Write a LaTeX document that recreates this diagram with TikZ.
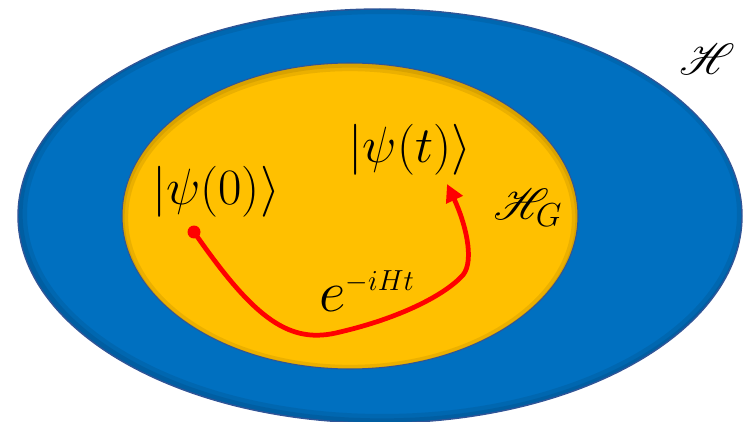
\RequirePackage{fix-cm}
\documentclass[tikz,border=0pt]{standalone}
\usepackage{amsmath,amssymb}
\usepackage{mathrsfs}
\usepackage{tikz}
\usetikzlibrary{positioning, calc, arrows.meta}
\definecolor{hBlue}{RGB}{0, 112, 192}
\definecolor{hGold}{RGB}{255, 192, 0}
\definecolor{rimBlue}{RGB}{47, 85, 151}
\definecolor{evRed}{RGB}{255, 0, 0}

\begin{document}
\begin{tikzpicture}[
    x=0.02cm, y=-0.02cm,
    hspace/.style={fill=hBlue},
    subspace/.style={fill=hGold},
    rim/.style={draw=black, opacity=0.08},
    ket/.style={inner sep=0pt, font=\fontsize{29}{33}\selectfont},
    lbl/.style={inner sep=0pt, font=\fontsize{29}{33}\selectfont},
    dot/.style={circle, fill=evRed, inner sep=0pt, minimum size=0.26cm},
    arrow/.style={-{Triangle[length=10pt, width=10pt]}, draw=evRed, line width=2.7pt},
  ]
    \useasboundingbox (0,0) rectangle (743,422);

    % Outer space H
    \fill[hspace] (380,216) ellipse [x radius=362, y radius=207];
    \begin{scope}
      \clip (380,216) ellipse [x radius=362, y radius=207];
      \draw[rim, line width=8pt] (382,214) ellipse [x radius=362, y radius=207];
      \draw[rim, line width=3pt] (382,214) ellipse [x radius=362, y radius=207];
    \end{scope}
    \draw[draw=rimBlue, line width=0.8pt] (380,216) ellipse [x radius=362, y radius=207];

    % Subspace H_G
    \fill[subspace] (350,216) ellipse [x radius=228, y radius=153];
    \begin{scope}
      \clip (350,216) ellipse [x radius=228, y radius=153];
      \draw[rim, line width=7pt] (350,218) ellipse [x radius=228, y radius=153];
      \draw[rim, line width=3pt] (350,218) ellipse [x radius=228, y radius=153];
    \end{scope}
    \draw[draw=rimBlue, line width=0.6pt] (350,216) ellipse [x radius=228, y radius=153];

    % Labels
    \node[lbl] (Hfull) at (707,59) {$\mathscr{H}$};
    \node[lbl, font=\fontsize{27}{31}\selectfont] (Hsub) at (528,208) {$\mathscr{H}_G$};
    \node[ket] (psi0) at (216,192) {$|\psi(0)\rangle$};
    \node[ket] (psit) at (410,150) {$|\psi(t)\rangle$};
    \node[ket, font=\fontsize{33}{37}\selectfont] (prop) at (367,291) {$e^{\scriptscriptstyle -iHt}$};

    % Time evolution
    \node[dot] (start) at (194,232) {};
    \coordinate (tip) at (447,184);
    \draw[arrow] (start.center) .. controls (255,320) and (290,345) .. (340,332)
      .. controls (400,318) and (445,295) .. (463,275)
      .. controls (475,260) and (465,222) .. (tip);
  \end{tikzpicture}
\end{document}
